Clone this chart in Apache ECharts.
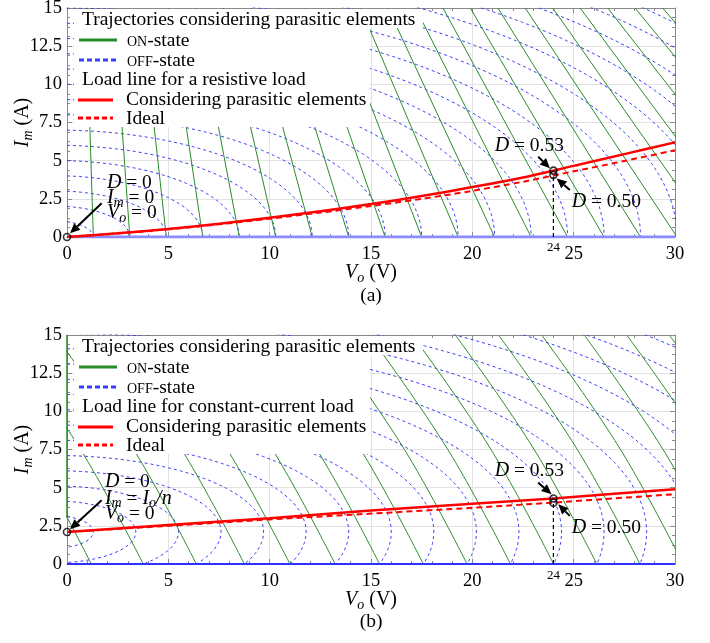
<!DOCTYPE html>
<html><head><meta charset="utf-8">
<script src="https://cdn.jsdelivr.net/npm/echarts@6/dist/echarts.min.js"></script>
<style>html,body{margin:0;padding:0;background:#fff}#c{width:710px;height:643px}</style>
</head><body><div id="c"></div><script>
// ================= DATA =================
const xTicks = [0, 5, 10, 15, 20, 25, 30];
const yTicks = [0, 2.5, 5, 7.5, 10, 12.5, 15];

// ---- Panel (a): resistive load ----
// ON-state lines: V where each line leaves the I=0 axis, and V where it reaches I=15
const onA_baseV = [1.3,3.1,4.9,6.7,8.5,10.3,12.1,13.9,15.7,17.5,19.3,21.1,22.9,24.7,26.5,28.3,30.1,31.9,33.7,35.5,37.3,39.1];
const onA_topV  = [0.94,2.30,3.65,5.00,6.36,7.71,9.07,10.42,11.78,13.13,14.49,15.84,17.20,18.55,19.90,21.26,22.61,23.97,25.32,26.68,28.03,29.39];
// OFF-state arcs: I where each arc meets V=0, and V where it lands on I=0
const offA_startI = [1,2,3,4,5,6,7,8,9,10,11,12,13,14,15,16,17,18,19,20,21,22];
const offA_endV   = [1.3,3.1,4.9,6.7,8.5,10.3,12.1,13.9,15.7,17.5,19.3,21.1,22.9,24.7,26.5,28.3,30.1,31.9,33.7,35.5,37.3,39.1];
// load lines
const loadA_V     = [0,2.5,5,7.5,10,12.5,15,17.5,20,22.5,25,27.5,30];
const loadA_real  = [0,0.24,0.52,0.87,1.26,1.69,2.16,2.68,3.27,3.9,4.66,5.43,6.2];
const loadA_ideal = [0,0.23,0.5,0.83,1.2,1.6,2.03,2.5,3.02,3.62,4.3,4.98,5.68];
const markA = [[0,0],[24,4.35],[24,4.07]];

// ---- Panel (b): constant-current load ----
const loadCurrentB = 2.1;   // I_o / n
// ON-state lines: V at I=0, at I=7.5 and at I=15
const onB_baseV = [1.2,3.76,6.38,8.75,11.0,13.23,15.42,17.58,19.74,21.88,24.01,26.14,28.27,30.4,32.5,34.6,36.7];
const onB_midV  = [-1.89,0.67,3.29,5.66,7.91,10.14,12.33,14.49,16.65,18.79,20.92,23.05,25.18,27.31,29.41,31.51,33.61];
const onB_topV  = [-5.78,-3.22,-0.60,1.77,4.02,6.25,8.44,10.60,12.76,14.90,17.03,19.16,21.29,23.42,25.52,27.62,29.72];
const onB_axis  = [[0,3.05],[0,15]];   // ON trajectory along V = 0
// OFF-state arcs: rightmost V (at I = Io/n) and I where the arc meets V=0 (upper)
const offB_rightV = [1.3,3.4,5.5,7.6,9.7,11.8,13.9,16.0,18.1,20.2,22.3,24.4,26.5,28.6,30.7,32.8,34.9,37.0,39.1];
const offB_topI   = [3.1,4.1,5.1,6.1,7.1,8.1,9.1,10.1,11.1,12.1,13.1,14.1,15.1,16.1,17.1,18.1,19.1,20.1,21.1];
const loadB_V     = [0,5,10,15,20,24,27,30];
const loadB_real  = [2.1,2.55,3.0,3.5,3.95,4.29,4.6,4.89];
const loadB_ideal = [2.1,2.5,2.92,3.3,3.68,4.02,4.3,4.57];
const markB = [[0,2.1],[24,4.29],[24,4.02]];

const dutyV = 24;
// ================= STYLE / LAYOUT =================
const FONT = '"Liberation Serif","Times New Roman",serif';
const GREEN = '#2a8c2a', BLUE = '#3c3cff', RED = '#ff0000', AX = '#8a8a8a';
const arcCenterOffset = 0.6;   // ellipse centre sits at V = -0.6

const chart = echarts.init(document.getElementById('c'));

const NAME_RICH = {
  i:{fontStyle:'italic', fontFamily:FONT, fontSize:20, color:'#000', lineHeight:22},
  s:{fontStyle:'italic', fontFamily:FONT, fontSize:14, color:'#000', padding:[11,0,0,0]}
};
function xAx(gi, pos) {
  const main = pos === 'bottom';
  return {
    type:'value', gridIndex:gi, min:xTicks[0], max:xTicks[xTicks.length-1], interval:xTicks[1]-xTicks[0], position:pos,
    axisLine:{show:true, onZero:false, lineStyle:{color:AX, width:1}},
    axisTick:{show:true, inside:true, length:5, lineStyle:{color:AX}},
    minorTick:{show:true, splitNumber:5, length:3, lineStyle:{color:AX}},
    splitLine:{show:main, lineStyle:{color:'#e2e2e2', width:1}},
    axisLabel:{show:main, color:'#000', fontFamily:FONT, fontSize:18.5, margin:8},
    name: main ? '{i|V}{s|o} (V)' : '', nameLocation:'middle', nameGap:25, nameMoveOverlap:false,
    nameTextStyle:{color:'#000', fontFamily:FONT, fontSize:20, lineHeight:22, rich:NAME_RICH}
  };
}
function yAx(gi, pos) {
  const main = pos === 'left';
  return {
    type:'value', gridIndex:gi, min:yTicks[0], max:yTicks[yTicks.length-1], interval:yTicks[1]-yTicks[0], position:pos,
    axisLine:{show:true, onZero:false, lineStyle:{color:AX, width:1}},
    axisTick:{show:true, inside:true, length:5, lineStyle:{color:AX}},
    minorTick:{show:true, splitNumber:4, length:3, lineStyle:{color:AX}},
    splitLine:{show:main, lineStyle:{color:'#e2e2e2', width:1}},
    axisLabel:{show:main, color:'#000', fontFamily:FONT, fontSize:18.5, margin:5},
    name: main ? '{i|I}{s|m} (A)' : '', nameLocation:'middle', nameGap:33, nameRotate:90, nameMoveOverlap:false,
    nameTextStyle:{color:'#000', fontFamily:FONT, fontSize:20, lineHeight:22, rich:NAME_RICH}
  };
}

const series = [];
function addLine(gi, pts, color, width, type, z, smooth) {
  series.push({type:'line', xAxisIndex:gi*2, yAxisIndex:gi*2, data:pts, symbol:'none', showSymbol:false,
    smooth: smooth || false, clip:true, silent:true, animation:false, z:z,
    lineStyle:{color:color, width:width, type:type}});
}
function ellipse(cv, ci, a, b, t0, t1, n) {
  const p = [];
  for (let j = 0; j <= n; j++) { const t = t0 + (t1 - t0) * j / n; p.push([cv + a*Math.cos(t), ci + b*Math.sin(t)]); }
  return p;
}

// ---- panel (a) ----
offA_startI.forEach((i0, k) => {
  const a = offA_endV[k] + arcCenterOffset;
  const b = i0 / Math.sqrt(1 - Math.pow(arcCenterOffset / a, 2));
  addLine(0, ellipse(-arcCenterOffset, 0, a, b, Math.acos(arcCenterOffset / a), 0, 140), BLUE, 1, [3,3], 3);
});
onA_baseV.forEach((v0, k) => addLine(0, [[v0,0],[onA_topV[k],15]], GREEN, 1, 'solid', 4));
addLine(0, [[0,0],[30,0]], '#8c8cff', 3, 'solid', 5);
addLine(0, [[dutyV,0],[dutyV,markA[2][1]]], '#000', 1.2, [4,3], 6);
addLine(0, loadA_V.map((v,k)=>[v, loadA_ideal[k]]), RED, 2, [6,4], 7, 0.3);
addLine(0, loadA_V.map((v,k)=>[v, loadA_real[k]]), RED, 2.5, 'solid', 8, 0.3);

// ---- panel (b) ----
offB_rightV.forEach((vr, k) => {
  const a = vr + arcCenterOffset;
  const b = (offB_topI[k] - loadCurrentB) / Math.sqrt(1 - Math.pow(arcCenterOffset / a, 2));
  const t0 = Math.acos(arcCenterOffset / a);
  addLine(1, ellipse(-arcCenterOffset, loadCurrentB, a, b, t0, -t0, 180), BLUE, 1, [3,3], 3);
});
onB_baseV.forEach((v0, k) => addLine(1, [[v0,0],[onB_midV[k],7.5],[onB_topV[k],15]], GREEN, 1, 'solid', 4, 0.4));
addLine(1, onB_axis, GREEN, 1.5, 'solid', 4);
addLine(1, [[0,0],[30,0]], '#3030ff', 2, 'solid', 5);
addLine(1, [[dutyV,0],[dutyV,markB[2][1]]], '#000', 1.2, [4,3], 6);
addLine(1, loadB_V.map((v,k)=>[v, loadB_ideal[k]]), RED, 2, [6,4], 7);
addLine(1, loadB_V.map((v,k)=>[v, loadB_real[k]]), RED, 2.5, 'solid', 8);

[markA, markB].forEach((m, gi) => series.push({type:'scatter', xAxisIndex:gi*2, yAxisIndex:gi*2, data:m,
  symbol:'circle', symbolSize:7, silent:true, animation:false, z:10, clip:false,
  itemStyle:{color:'rgba(255,255,255,0)', borderColor:'#000', borderWidth:1.6}}));

chart.setOption({
  animation:false,
  backgroundColor:'#fff',
  grid:[{left:67, right:35, top:8, height:229, containLabel:false, outerBoundsMode:'none'},
        {left:67, right:35, top:335, height:229, containLabel:false, outerBoundsMode:'none'}],
  xAxis:[xAx(0,'bottom'), xAx(0,'top'), xAx(1,'bottom'), xAx(1,'top')],
  yAxis:[yAx(0,'left'), yAx(0,'right'), yAx(1,'left'), yAx(1,'right')],
  series: series
});

// ================= annotations & legends =================
function px(gi, v, i) { return chart.convertToPixel({xAxisIndex:gi*2, yAxisIndex:gi*2}, [v, i]); }
const RICH = {
  i:{fontStyle:'italic', fontFamily:FONT, fontSize:20, fill:'#000'},
  s:{fontStyle:'italic', fontFamily:FONT, fontSize:14, fill:'#000', padding:[10,0,0,0]},
  sc:{fontFamily:FONT, fontSize:14, fill:'#000', padding:[3,0,0,0]}
};
const els = [];
function txt(x, y, t, size, align) {
  els.push({type:'text', x:x, y:y, z:120, style:{text:t, fontFamily:FONT, fontSize:size||19.5, fill:'#000',
    align:align||'left', verticalAlign:'middle', rich:RICH}});
}
function seg(x1, y1, x2, y2, color, w, dash) {
  els.push({type:'line', z:120, shape:{x1:x1,y1:y1,x2:x2,y2:y2}, style:{stroke:color, lineWidth:w, lineDash:dash||null}});
}
function arrow(p1, p2) {
  const dx = p2[0]-p1[0], dy = p2[1]-p1[1], L = Math.hypot(dx, dy), ux = dx/L, uy = dy/L;
  const hl = 10, hw = 4.5, bx = p2[0]-ux*hl, by = p2[1]-uy*hl;
  seg(p1[0], p1[1], bx, by, '#000', 2);
  els.push({type:'polygon', z:121, shape:{points:[[p2[0],p2[1]],[bx-uy*hw,by+ux*hw],[bx+uy*hw,by-ux*hw]]}, style:{fill:'#000'}});
}
function legend(dy, header2) {
  els.push({type:'rect', z:110, shape:{x:74, y:9+dy, width:349, height:19}, style:{fill:'#fff'}});
  els.push({type:'rect', z:110, shape:{x:74, y:9+dy, width:296, height:118}, style:{fill:'#fff'}});
  txt(82, 20+dy, 'Trajectories considering parasitic elements');
  seg(79, 40+dy, 117, 40+dy, GREEN, 3);
  txt(127, 41+dy, '{sc|ON}-state');
  seg(79, 60+dy, 117, 60+dy, BLUE, 3, [5,3]);
  txt(127, 61+dy, '{sc|OFF}-state');
  txt(82, 80+dy, header2);
  seg(78, 100+dy, 113, 100+dy, RED, 3);
  txt(126, 100+dy, 'Considering parasitic elements');
  seg(78, 118+dy, 113, 118+dy, RED, 3, [5,3]);
  txt(126, 119+dy, 'Ideal');
}
legend(0, 'Load line for a resistive load');
legend(327, 'Load line for constant-current load');

// panel (a) annotations
let p;
p = px(0, 1.97, 3.54); txt(p[0], p[1], '{i|D} = 0');
p = px(0, 1.97, 2.55); txt(p[0], p[1], '{i|I}{s|m} = 0');
p = px(0, 1.97, 1.57); txt(p[0], p[1], '{i|V}{s|o} = 0');
arrow(px(0, 1.71, 2.21), px(0, 0.15, 0.24));
p = px(0, 21.1, 5.96); txt(p[0], p[1], '{i|D} = 0.53');
arrow(px(0, 23.25, 5.26), px(0, 23.83, 4.5));
p = px(0, 24.9, 2.31); txt(p[0], p[1], '{i|D} = 0.50');
arrow(px(0, 24.81, 3.08), px(0, 24.16, 3.84));
p = px(0, dutyV, 0); txt(p[0], p[1]+11, String(dutyV), 13, 'center');

// panel (b) annotations
p = px(1, 1.87, 5.37); txt(p[0], p[1], '{i|D} = 0');
p = px(1, 1.87, 4.28); txt(p[0], p[1], '{i|I}{s|m} = {i|I}{s|o}{i|/n}');
p = px(1, 1.87, 3.30); txt(p[0], p[1], '{i|V}{s|o} = 0');
arrow(px(1, 1.71, 4.17), px(1, 0.15, 2.28));
p = px(1, 21.1, 6.09); txt(p[0], p[1], '{i|D} = 0.53');
arrow(px(1, 23.25, 5.33), px(1, 23.91, 4.57));
p = px(1, 24.9, 2.39); txt(p[0], p[1], '{i|D} = 0.50');
arrow(px(1, 24.81, 3.15), px(1, 24.24, 3.91));
p = px(1, dutyV, 0); txt(p[0], p[1]+12, String(dutyV), 13, 'center');

// captions
txt(371, 296, '(a)', 19.5, 'center');
txt(371, 622, '(b)', 19.5, 'center');

chart.setOption({graphic:{elements:els}});
</script></body></html>
